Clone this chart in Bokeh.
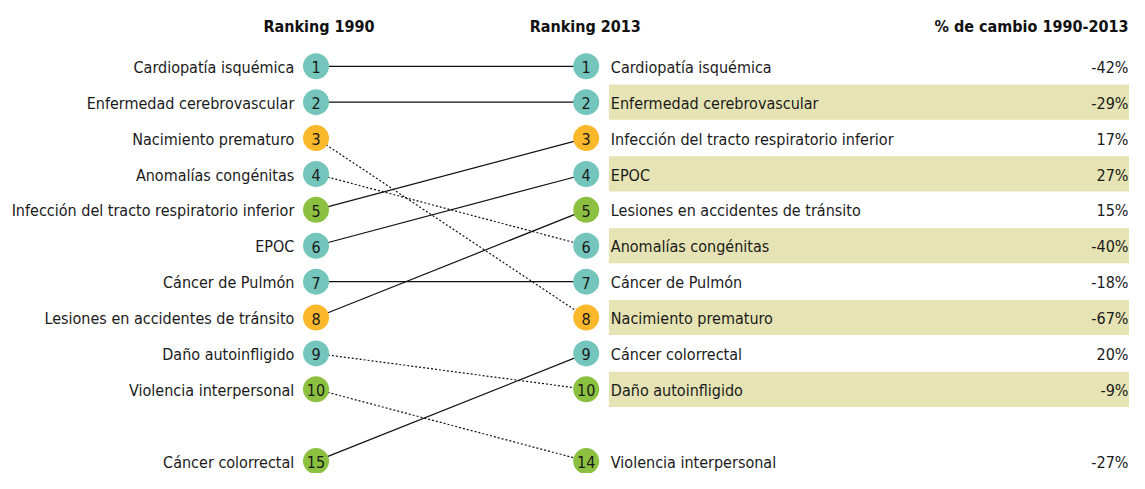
from bokeh.plotting import figure
from bokeh.models import Range1d
from bokeh.core.properties import value
from bokeh.embed import file_html
from bokeh.resources import INLINE

# ---- data ----
causes_1990 = ["Cardiopatía isquémica", "Enfermedad cerebrovascular", "Nacimiento prematuro",
               "Anomalías congénitas", "Infección del tracto respiratorio inferior", "EPOC",
               "Cáncer de Pulmón", "Lesiones en accidentes de tránsito", "Daño autoinfligido",
               "Violencia interpersonal", "Cáncer colorrectal"]
rank_1990 = [1, 2, 3, 4, 5, 6, 7, 8, 9, 10, 15]
rank_2013 = [1, 2, 8, 6, 3, 4, 7, 5, 10, 14, 9]

causes_2013 = ["Cardiopatía isquémica", "Enfermedad cerebrovascular",
               "Infección del tracto respiratorio inferior", "EPOC",
               "Lesiones en accidentes de tránsito", "Anomalías congénitas", "Cáncer de Pulmón",
               "Nacimiento prematuro", "Cáncer colorrectal", "Daño autoinfligido",
               "Violencia interpersonal"]
ranks_2013_sorted = [1, 2, 3, 4, 5, 6, 7, 8, 9, 10, 14]
pct_change = ["-42%", "-29%", "17%", "27%", "15%", "-40%", "-18%", "-67%", "20%", "-9%", "-27%"]

teal, orange, green = "#74c6bc", "#fbb82a", "#8cc040"
colors_1990 = [teal, teal, orange, teal, green, teal, teal, orange, teal, green, green]
colors_2013 = [teal, teal, orange, teal, green, teal, teal, orange, teal, green, green]

headers = ["Ranking 1990", "Ranking 2013", "% de cambio 1990-2013"]

# ---- layout helpers ----
def row(rank):
    return rank if rank <= 10 else 12

X_LEFT, X_RIGHT = 320, 594
FONT = "DejaVu Sans Condensed"

W, H = 1129, 473
p = figure(width=W, height=H, output_backend="svg", toolbar_location=None,
           x_range=Range1d(0, 1145), y_range=Range1d(12.346, -0.833),
           min_border=0, outline_line_color=None, background_fill_color="white",
           border_fill_color="white")
p.axis.visible = False
p.grid.visible = False

# highlight bands on even rows
band_rows = [row(r) for i, r in enumerate(ranks_2013_sorted) if i % 2 == 1]
p.quad(left=617, right=1145, top=[b - 0.49 for b in band_rows], bottom=[b + 0.49 for b in band_rows],
       fill_color="#e6e4b4", line_color=None)

# connecting lines
for r1, r2 in zip(rank_1990, rank_2013):
    dash = "solid" if r2 <= r1 else "2 2"
    p.line([X_LEFT, X_RIGHT], [row(r1), row(r2)], line_color="#111111", line_width=1.2, line_dash=dash)

# circles
p.scatter(x=[X_LEFT] * len(rank_1990), y=[row(r) for r in rank_1990], size=26,
          fill_color=colors_1990, line_color=None)
p.scatter(x=[X_RIGHT] * len(ranks_2013_sorted), y=[row(r) for r in ranks_2013_sorted], size=26,
          fill_color=colors_2013, line_color=None)

txt = dict(text_font=value(FONT), text_font_size="16px", text_color="#1a1a1a", text_baseline="middle")

p.text(x=[X_LEFT] * len(rank_1990), y=[row(r) + 0.03 for r in rank_1990],
       text=[str(r) for r in rank_1990], text_align="center", **txt)
p.text(x=[X_RIGHT] * len(ranks_2013_sorted), y=[row(r) + 0.03 for r in ranks_2013_sorted],
       text=[str(r) for r in ranks_2013_sorted], text_align="center", **txt)

p.text(x=[298] * len(causes_1990), y=[row(r) + 0.03 for r in rank_1990], text=causes_1990,
       text_align="right", **txt)
p.text(x=[619] * len(causes_2013), y=[row(r) + 0.03 for r in ranks_2013_sorted], text=causes_2013,
       text_align="left", **txt)
p.text(x=[1144] * len(pct_change), y=[row(r) + 0.03 for r in ranks_2013_sorted], text=pct_change,
       text_align="right", **txt)

hdr = dict(text_font=value(FONT), text_font_size="16px", text_font_style="bold",
           text_color="#111111", text_baseline="middle")
p.text(x=[323, 593], y=[-0.106, -0.106], text=headers[:2], text_align="center", **hdr)
p.text(x=[1144], y=[-0.106], text=[headers[2]], text_align="right", **hdr)

open("out.html", "w").write(file_html(p, INLINE))
